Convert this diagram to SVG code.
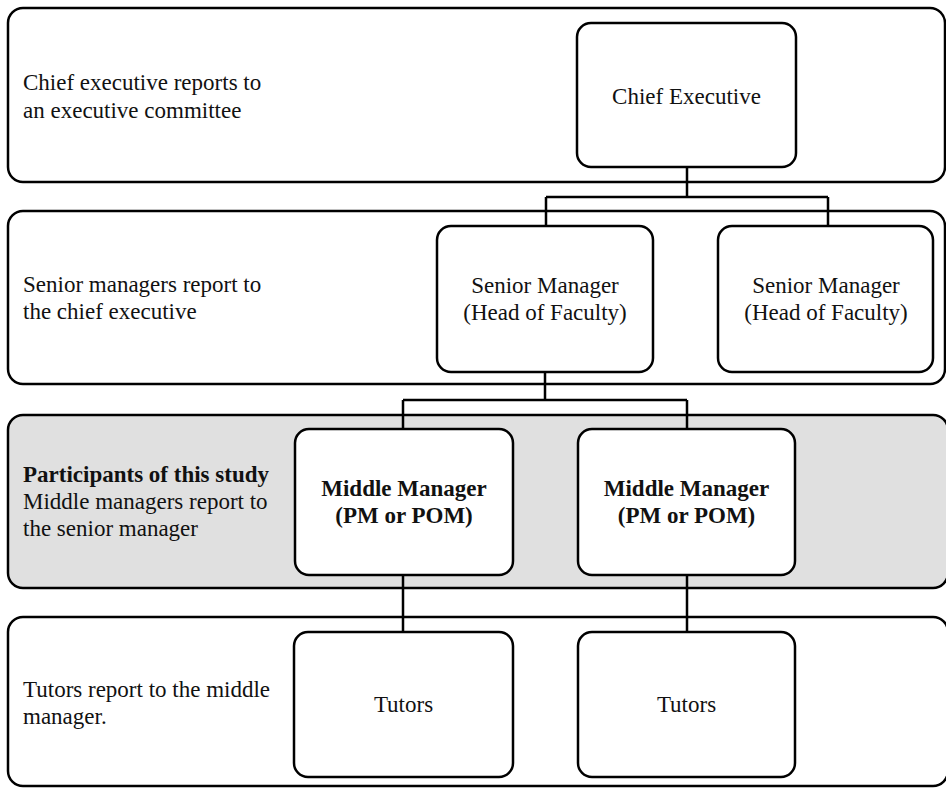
<svg xmlns="http://www.w3.org/2000/svg" width="946" height="789" viewBox="0 0 946 789">
<style>
.band{fill:#fff;stroke:#000;stroke-width:2.5}
.band.hl{fill:#e0e0e0}
.node{fill:#fff;stroke:#000;stroke-width:2.5}
.conn{fill:none;stroke:#000;stroke-width:2.5}
text{font-family:"Liberation Serif","Times New Roman",serif;font-size:23px;fill:#111}
.c{text-anchor:middle}
.b{font-weight:bold}
</style>
<rect width="946" height="789" fill="#fff"/>
<g id="band1"><rect class="band" x="8" y="8" width="937" height="174" rx="15"/>
<text x="23" y="90">Chief executive reports to</text><text x="23" y="118">an executive committee</text></g>
<g id="band2"><rect class="band" x="8" y="211" width="937" height="173" rx="15"/>
<text x="23" y="292">Senior managers report to</text><text x="23" y="319">the chief executive</text></g>
<g id="band3"><rect class="band hl" x="8" y="415" width="940" height="173" rx="15"/>
<text x="23" y="482" class="b">Participants of this study</text><text x="23" y="509">Middle managers report to</text><text x="23" y="536">the senior manager</text></g>
<g id="band4"><rect class="band" x="8" y="617" width="940" height="169" rx="15"/>
<text x="23" y="697">Tutors report to the middle</text><text x="23" y="724">manager.</text></g>
<g id="connectors">
<path class="conn" d="M687 167V197M546 197H828M546 197V226M828 197V226"/>
<path class="conn" d="M545 372V400M403 400H687M403 400V429M687 400V429"/>
<path class="conn" d="M403 575V632M687 575V632"/>
</g>
<g id="chief"><rect class="node" x="577" y="23" width="219" height="144" rx="14"/><text class="c" x="686.5" y="104">Chief Executive</text></g>
<g id="senior1"><rect class="node" x="437" y="226" width="216" height="146" rx="14"/><text class="c" x="545" y="293">Senior Manager</text><text class="c" x="545" y="320">(Head of Faculty)</text></g>
<g id="senior2"><rect class="node" x="718" y="226" width="215" height="146" rx="14"/><text class="c" x="826" y="293">Senior Manager</text><text class="c" x="826" y="320">(Head of Faculty)</text></g>
<g id="middle1"><rect class="node" x="295" y="429" width="218" height="146" rx="14"/><text class="c b" x="404" y="496">Middle Manager</text><text class="c b" x="404" y="523">(PM or POM)</text></g>
<g id="middle2"><rect class="node" x="578" y="429" width="217" height="146" rx="14"/><text class="c b" x="686.5" y="496">Middle Manager</text><text class="c b" x="686.5" y="523">(PM or POM)</text></g>
<g id="tutors1"><rect class="node" x="294" y="632" width="219" height="145" rx="14"/><text class="c" x="403.5" y="712">Tutors</text></g>
<g id="tutors2"><rect class="node" x="578" y="632" width="217" height="145" rx="14"/><text class="c" x="686.5" y="712">Tutors</text></g>
</svg>
